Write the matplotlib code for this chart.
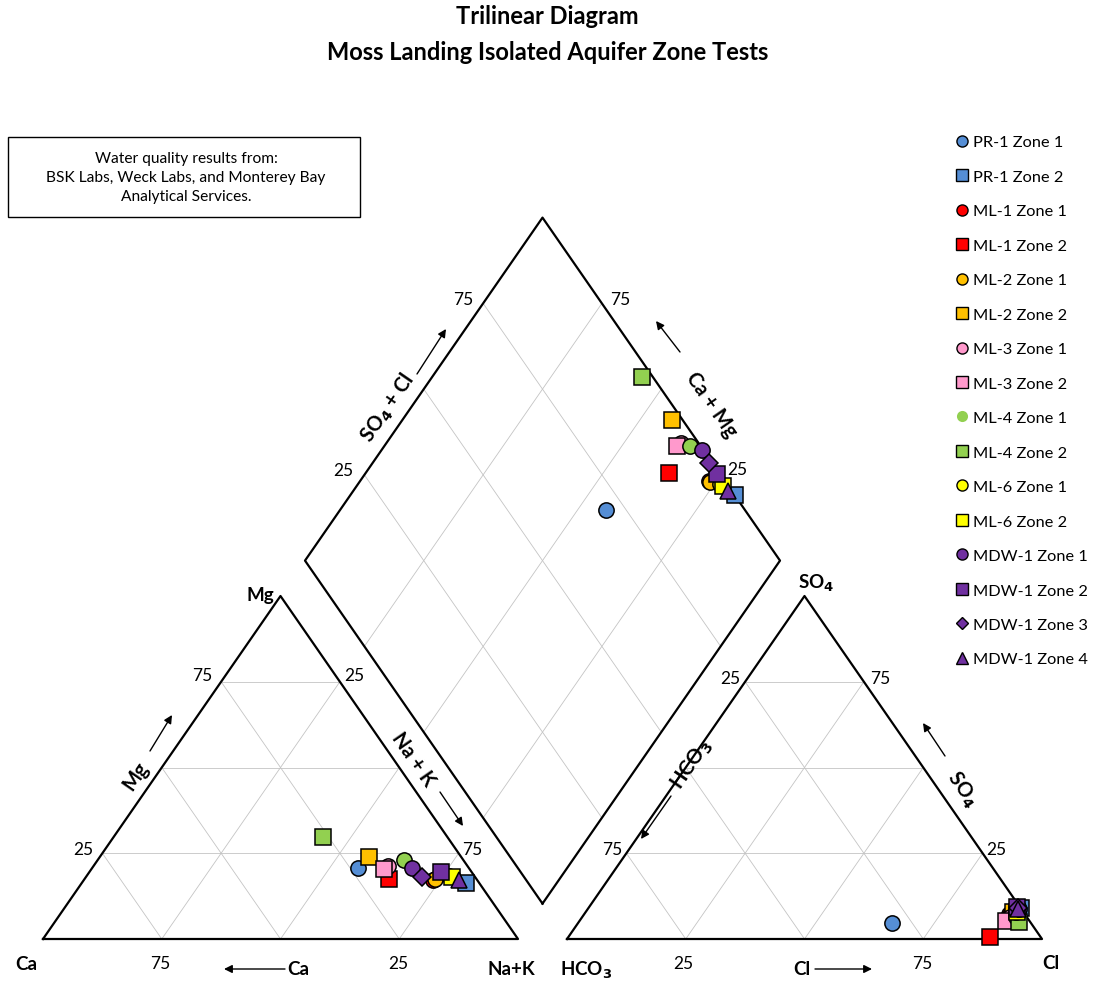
import numpy as np
import matplotlib
matplotlib.use('Agg')
import matplotlib.pyplot as plt
from matplotlib.lines import Line2D

plt.rcParams['font.family'] = ['Lato', 'DejaVu Sans']

# ---------------- data (percent of meq) ----------------
samples = ['PR-1 Zone 1', 'PR-1 Zone 2', 'ML-1 Zone 1', 'ML-1 Zone 2',
           'ML-2 Zone 1', 'ML-2 Zone 2', 'ML-3 Zone 1', 'ML-3 Zone 2',
           'ML-4 Zone 1', 'ML-4 Zone 2', 'ML-6 Zone 1', 'ML-6 Zone 2',
           'MDW-1 Zone 1', 'MDW-1 Zone 2', 'MDW-1 Zone 3', 'MDW-1 Zone 4']
marker_shapes = ['o', 's', 'o', 's', 'o', 's', 'o', 's',
                 'o', 's', 'o', 's', 'o', 's', 'D', '^']
marker_colors = ['#558ED5', '#558ED5', '#FF0000', '#FF0000',
                 '#FFC000', '#FFC000', '#FF99CC', '#FF99CC',
                 '#92D050', '#92D050', '#FFFF00', '#FFFF00',
                 '#7030A0', '#7030A0', '#7030A0', '#7030A0']
ca   = [23.3, 2.8, 9.3, 18.5, 8.7, 19.4, 16.7, 18.0, 12.6, 26.2, 5.4, 4.8, 11.9, 6.4, 11.1, 3.8]
mg   = [20.7, 16.3, 17.2, 17.5, 17.5, 23.9, 21.3, 20.4, 23.0, 29.7, 18.4, 18.1, 20.7, 19.5, 18.1, 17.2]
nak  = [56.0, 80.9, 73.5, 64.0, 73.8, 56.7, 62.0, 61.6, 64.4, 44.1, 76.2, 77.1, 67.4, 74.1, 70.8, 79.0]
hco3 = [29.2, 0.0, 3.3, 10.6, 3.3, 2.2, 3.6, 5.0, 2.3, 2.4, 1.4, 1.2, 0.4, 0.6, 0.6, 0.7]
so4  = [4.7, 9.0, 7.3, 0.6, 7.0, 8.0, 6.4, 5.2, 6.4, 5.0, 8.0, 8.0, 8.7, 9.3, 9.0, 8.7]
cl   = [66.1, 91.0, 89.4, 88.8, 89.7, 89.8, 90.0, 89.8, 91.3, 92.6, 90.6, 90.8, 90.9, 90.1, 90.4, 90.6]
ticks = [25, 75]

# ---------------- geometry ----------------
W, Hpx = 1095, 987
GAP = 49 / 475.0
H = np.sqrt(3) / 2
SX = 475.0            # px per unit horizontally
SY = 343.0 / H        # px per unit vertically
X0, Y0 = 43.0, 940.0  # pixel position of Ca corner


def px(x, y):
    """pixel position -> data coordinates"""
    return (x - X0) / SX, (Y0 - y) / SY


def cation_xy(c, m, n):
    t = c + m + n
    m, n = m / t, n / t
    return n + m / 2, m * H


def anion_xy(h, s, c):
    t = h + s + c
    s, c = s / t, c / t
    return 1 + GAP + c + s / 2, s * H


def diamond_xy(n, a):
    return (n + 2 + GAP - a) / 2, np.sqrt(3) * (2 + GAP - a - n) / 2


fig = plt.figure(figsize=(W / 100, Hpx / 100), dpi=100)
ax = fig.add_axes([0, 0, 1, 1])
ax.set_xlim(-X0 / SX, (W - X0) / SX)
ax.set_ylim(-(Hpx - Y0) / SY, Y0 / SY)
ax.axis('off')

gcol = '#C4C4C4'
glw = 0.6

# grid lines
for f in [0.25, 0.5, 0.75]:
    for off in [0, 1 + GAP]:
        ax.plot([off + f / 2, off + 1 - f / 2], [f * H, f * H], color=gcol, lw=glw, zorder=1)
        ax.plot([off + f, off + f + (1 - f) / 2], [0, (1 - f) * H], color=gcol, lw=glw, zorder=1)
        ax.plot([off + 1 - f, off + (1 - f) / 2], [0, (1 - f) * H], color=gcol, lw=glw, zorder=1)
    p1 = diamond_xy(f, 0); p2 = diamond_xy(f, 1)
    ax.plot([p1[0], p2[0]], [p1[1], p2[1]], color=gcol, lw=glw, zorder=1)
    p1 = diamond_xy(0, f); p2 = diamond_xy(1, f)
    ax.plot([p1[0], p2[0]], [p1[1], p2[1]], color=gcol, lw=glw, zorder=1)

# outlines
olw = 1.6
ax.plot([0, 1, 0.5, 0], [0, 0, H, 0], color='black', lw=olw, zorder=2)
ax.plot([1 + GAP, 2 + GAP, 1.5 + GAP, 1 + GAP], [0, 0, H, 0], color='black', lw=olw, zorder=2)
dv = [diamond_xy(1, 1), diamond_xy(0, 1), diamond_xy(0, 0), diamond_xy(1, 0), diamond_xy(1, 1)]
ax.plot([p[0] for p in dv], [p[1] for p in dv], color='black', lw=olw, zorder=2)

# data points
for i in range(len(samples)):
    ms = 11 if marker_shapes[i] in ('o', 's') else (9 if marker_shapes[i] == 'D' else 11)
    kw = dict(marker=marker_shapes[i], color=marker_colors[i], markeredgecolor='black',
              markeredgewidth=1.1, markersize=ms, linestyle='none', zorder=5 + i)
    cx, cy = cation_xy(ca[i], mg[i], nak[i])
    ax.plot([cx], [cy], **kw)
    axx, ayy = anion_xy(hco3[i], so4[i], cl[i])
    ax.plot([axx], [ayy], **kw)
    n = nak[i] / (ca[i] + mg[i] + nak[i])
    a = hco3[i] / (hco3[i] + so4[i] + cl[i])
    dx, dy = diamond_xy(n, a)
    ax.plot([dx], [dy], **kw)


def T(x, y, s, **kw):
    ax.text(*px(x, y), s, ha='center', va='center', **kw)


# tick labels
tfs = 12.5
tick_px = [(202, 676, '75'), (83, 850, '25'), (160, 964, '75'), (398, 964, '25'),
           (354, 676, '25'), (472, 850, '75'),
           (683, 964, '25'), (922, 964, '75'), (730, 679, '25'), (612, 850, '75'),
           (880, 679, '75'), (996, 850, '25'),
           (463, 300, '75'), (343, 471, '25'), (620, 300, '75'), (737, 470, '25')]
for x, y, s in tick_px:
    T(x, y, s, fontsize=tfs)

# corner labels
bfs = 13.5
T(260, 595, 'Mg', fontsize=bfs, fontweight='bold')
T(26, 965, 'Ca', fontsize=bfs, fontweight='bold')
T(511, 970, 'Na+K', fontsize=bfs, fontweight='bold')
T(586, 970, 'HCO$_\\mathbf{3}$', fontsize=bfs, fontweight='bold')
T(1051, 964, 'Cl', fontsize=bfs, fontweight='bold')
T(816, 583, 'SO$_\\mathbf{4}$', fontsize=bfs, fontweight='bold')

# axis labels with arrows
afs = 14.5
ang = np.degrees(np.arctan2(343, 237.5))


def arrow(x1, y1, x2, y2):
    ax.annotate('', xy=px(x2, y2), xytext=px(x1, y1),
                arrowprops=dict(arrowstyle='-|>', color='black', lw=1.0,
                                mutation_scale=12, shrinkA=0, shrinkB=0))


T(298, 970, 'Ca', fontsize=13.5, fontweight='bold')
arrow(285, 970, 224, 970)
T(802, 970, 'Cl', fontsize=13.5, fontweight='bold')
arrow(815, 970, 872, 970)

T(136, 776, 'Mg', fontsize=afs, fontweight='bold', rotation=ang, rotation_mode='anchor')
arrow(150, 752, 172, 716)
T(413, 760, 'Na + K', fontsize=afs, fontweight='bold', rotation=-ang, rotation_mode='anchor')
arrow(440, 793, 463, 827)
T(388, 408, 'SO$_\\mathbf{4}$ + Cl', fontsize=afs, fontweight='bold', rotation=ang, rotation_mode='anchor')
arrow(417, 375, 446, 330)
T(711, 405, 'Ca + Mg', fontsize=afs, fontweight='bold', rotation=-ang, rotation_mode='anchor')
arrow(680, 353, 656, 322)
T(692, 765, 'HCO$_\\mathbf{3}$', fontsize=afs, fontweight='bold', rotation=ang, rotation_mode='anchor')
arrow(671, 797, 641, 840)
T(962, 790, 'SO$_\\mathbf{4}$', fontsize=afs, fontweight='bold', rotation=-ang, rotation_mode='anchor')
arrow(945, 757, 923, 724)

# title
fig.text(0.5, 1 - 17 / Hpx, 'Trilinear Diagram', ha='center', va='center', fontsize=17, fontweight='bold')
fig.text(0.5, 1 - 53 / Hpx, 'Moss Landing Isolated Aquifer Zone Tests', ha='center', va='center',
         fontsize=17, fontweight='bold')

# note box
bx0, by0 = px(8, 218)
bx1, by1 = px(360, 138)
ax.add_patch(plt.Rectangle((bx0, by0), bx1 - bx0, by1 - by0, fill=False, edgecolor='black', lw=1.0))
T(186, 178, 'Water quality results from:\nBSK Labs, Weck Labs, and Monterey Bay\nAnalytical Services.',
  fontsize=11.2, linespacing=1.42)

# legend
handles = []
for i in range(len(samples)):
    mec = 'none' if samples[i] == 'ML-4 Zone 1' else 'black'
    handles.append(Line2D([], [], marker=marker_shapes[i], color=marker_colors[i],
                          markeredgecolor=mec, markeredgewidth=1.0,
                          markersize=8 if marker_shapes[i] != 'D' else 6.5, linestyle='none'))
fig.legend(handles, samples, loc='upper left', bbox_to_anchor=(955 / W, 1 - 136 / Hpx),
           frameon=False, fontsize=11.8, labelspacing=1.22, handlelength=0.8,
           handletextpad=0.3, borderaxespad=0, borderpad=0)

fig.savefig('out.png', dpi=100)
